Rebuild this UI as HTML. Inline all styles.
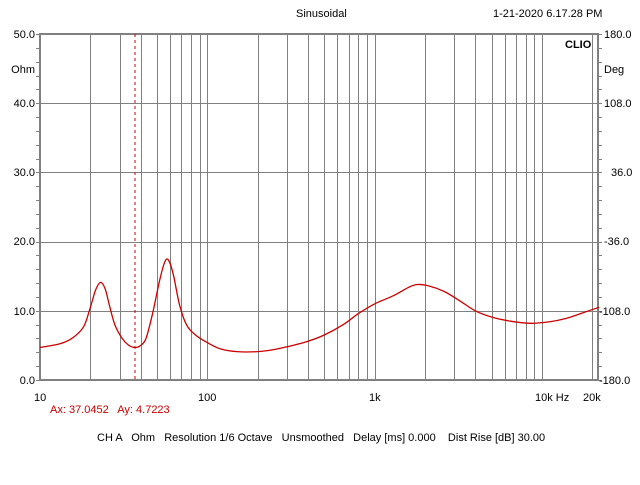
<!DOCTYPE html>
<html><head><meta charset="utf-8"><style>
body{margin:0;background:#fff;}
svg text{font-family:"Liberation Sans",Arial,sans-serif;font-size:11px;fill:#000;}
</style></head><body>
<svg id="s" width="640" height="480" xmlns="http://www.w3.org/2000/svg">
<rect width="640" height="480" fill="#fff"/>
<g id="grid" stroke="#808080" stroke-width="1"></g>
<rect x="40" y="34" width="558" height="346" fill="none" stroke="#808080" stroke-width="2"/>
<g id="ticks" stroke="#808080" stroke-width="1"></g>
<line x1="135" y1="34" x2="135" y2="380" stroke="#cc0000" stroke-width="1" stroke-dasharray="3,3"/>
<path id="curve" fill="none" stroke="#cc0000" stroke-width="1.3"/>
<text x="296" y="17">Sinusoidal</text>
<text x="493" y="17">1-21-2020 6.17.28 PM</text>
<text x="565" y="48" style="font-weight:bold">CLIO</text>
<g text-anchor="end">
<text x="35" y="38">50.0</text><text x="35" y="73">Ohm</text>
<text x="35" y="107">40.0</text><text x="35" y="176">30.0</text>
<text x="35" y="245">20.0</text><text x="35" y="315">10.0</text>
<text x="35" y="384">0.0</text>
</g>
<g>
<text x="604" y="38">180.0</text><text x="604" y="73">Deg</text>
<text x="604" y="107">108.0</text><text x="611" y="176">36.0</text>
<text x="604" y="245">-36.0</text><text x="599" y="315">-108.0</text>
<text x="599" y="384">-180.0</text>
</g>
<text x="34" y="401">10</text><text x="198" y="401">100</text><text x="369" y="401">1k</text>
<text x="535" y="401">10k Hz</text><text x="583" y="401">20k</text>
<text x="50" y="413" style="fill:#cc0000" xml:space="preserve">Ax: 37.0452   Ay: 4.7223</text>
<text x="97" y="441" xml:space="preserve">CH A   Ohm   Resolution 1/6 Octave   Unsmoothed   Delay [ms] 0.000    Dist Rise [dB] 30.00</text>
</svg>
<script>
var X=function(f){return 40+(Math.log10(f)-1)*167.3;};
var Y=function(o){return 380-o*6.92;};
var g=document.getElementById('grid'),t=document.getElementById('ticks'),ns='http://www.w3.org/2000/svg';
function L(p,a,b,c,d){var l=document.createElementNS(ns,'line');l.setAttribute('x1',a);l.setAttribute('y1',b);l.setAttribute('x2',c);l.setAttribute('y2',d);p.appendChild(l);}
[10,100,1000,10000].forEach(function(d){for(var k=1;k<=9;k++){var f=d*k;if(f<=10||f>20000)continue;var x=Math.round(X(f))+0.5;L(g,x,34,x,380);}});
for(var o=10;o<50;o+=10){var y=Math.round(Y(o))+0.5;L(g,40,y,598,y);}
for(var o=0;o<=50;o+=2){var y=Math.round(Y(o))+0.5;L(t,36,y,40,y);L(t,598,y,602,y);}
var pts=[[10,4.7],[13,5.2],[15,5.8],[17,6.8],[18.5,8],[20,10.5],[21.5,13],[23,14.1],[24.5,13.2],[26,10.8],[28,8],[31,6],[34,5],[37,4.7],[40,5],[43,6],[47,9.5],[52,14.5],[56,17.2],[59,17.2],[63,15],[68,11],[75,8],[85,6.5],[100,5.4],[120,4.5],[150,4.1],[200,4.1],[250,4.4],[300,4.8],[400,5.6],[500,6.5],[650,8],[800,9.6],[1000,11],[1300,12.2],[1600,13.4],[1800,13.8],[2100,13.6],[2600,12.8],[3200,11.5],[4000,10],[5000,9.1],[6500,8.5],[8500,8.2],[11000,8.4],[14000,8.9],[18000,9.8],[22000,10.5]];
var P=pts.map(function(p){return [X(p[0]),Y(p[1])];});
var d='M'+P[0][0].toFixed(1)+','+P[0][1].toFixed(1);
for(var i=0;i<P.length-1;i++){var p0=P[Math.max(0,i-1)],p1=P[i],p2=P[i+1],p3=P[Math.min(P.length-1,i+2)];
var c1=[p1[0]+(p2[0]-p0[0])/6,p1[1]+(p2[1]-p0[1])/6],c2=[p2[0]-(p3[0]-p1[0])/6,p2[1]-(p3[1]-p1[1])/6];
d+=' C'+c1[0].toFixed(1)+','+c1[1].toFixed(1)+' '+c2[0].toFixed(1)+','+c2[1].toFixed(1)+' '+p2[0].toFixed(1)+','+p2[1].toFixed(1);}
document.getElementById('curve').setAttribute('d',d);
</script>
</body></html>
